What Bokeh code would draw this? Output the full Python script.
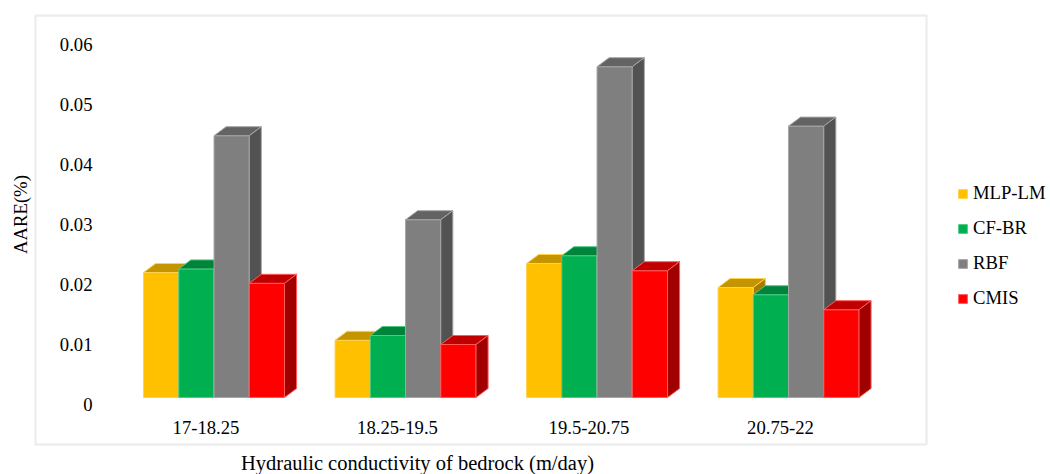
import math

from bokeh.plotting import figure
from bokeh.models import (Range1d, FixedTicker, BoxAnnotation, Legend,
                          LegendItem, Label)
from bokeh.embed import file_html
from bokeh.resources import INLINE

# ---- data -------------------------------------------------------------
categories = ["17-18.25", "18.25-19.5", "19.5-20.75", "20.75-22"]
series_names = ["MLP-LM", "CF-BR", "RBF", "CMIS"]
mlp_lm = [0.0220, 0.0107, 0.0235, 0.0195]
cf_br = [0.0226, 0.0115, 0.0248, 0.0183]
rbf = [0.0448, 0.0308, 0.0563, 0.0464]
cmis = [0.0202, 0.0100, 0.0223, 0.0158]
y_ticks = [0, 0.01, 0.02, 0.03, 0.04, 0.05, 0.06]

series_values = [mlp_lm, cf_br, rbf, cmis]

# face colours per series: front, top, side, edge
palette = [
    ("#FFC000", "#C49500", "#A67C00", "#FFD24D"),
    ("#00B050", "#00843C", "#006B30", "#4DCB85"),
    ("#7F7F7F", "#636363", "#525252", "#A6A6A6"),
    ("#FF0000", "#C00000", "#A00000", "#FF5A5A"),
]

FONT = "Liberation Serif"
FONT_SIZE = "14pt"
W, H = 1050, 474

# ---- pseudo-3D column geometry (category / value units) ----------------
BAR_W = 0.184        # width of one column's front face
GROUP_SHIFT = 0.042  # front faces sit slightly right of the category centre
DEPTH_X = 0.063      # horizontal depth offset
DEPTH_Y = 0.0015     # vertical depth offset
FLOOR = 0.00117      # top of the chart floor

# the plotting frame fills the whole canvas; axes are pinned inside it
p = figure(width=W, height=H, output_backend="svg", toolbar_location=None,
           x_range=Range1d(-1.0731, 4.4099), y_range=Range1d(-0.011667, 0.067333),
           min_border_left=0, min_border_right=0,
           min_border_top=0, min_border_bottom=0)
p.background_fill_color = "white"
p.border_fill_color = "white"
p.outline_line_color = None
p.grid.visible = False

legend_items = []
n = len(series_values)
for j, (name, vals, cols) in enumerate(zip(series_names, series_values, palette)):
    front_c, top_c, side_c, edge_c = cols
    fx, fy, tx, ty, sx, sy = [], [], [], [], [], []
    for i, v in enumerate(vals):
        x0 = i + GROUP_SHIFT - (n / 2) * BAR_W + j * BAR_W
        x1 = x0 + BAR_W
        fx.append([x0, x1, x1, x0])
        fy.append([FLOOR, FLOOR, v, v])
        tx.append([x0, x1, x1 + DEPTH_X, x0 + DEPTH_X])
        ty.append([v, v, v + DEPTH_Y, v + DEPTH_Y])
        sx.append([x1, x1 + DEPTH_X, x1 + DEPTH_X, x1])
        sy.append([FLOOR, FLOOR + DEPTH_Y, v + DEPTH_Y, v])
    front = p.patches(xs=fx, ys=fy, fill_color=front_c, line_color=edge_c,
                      line_width=1)
    p.patches(xs=tx, ys=ty, fill_color=top_c, line_color=edge_c, line_width=1)
    p.patches(xs=sx, ys=sy, fill_color=side_c, line_color=edge_c, line_width=1)
    legend_items.append(LegendItem(label=name, renderers=[front]))

# ---- axes (pinned inside the chart area) --------------------------------
xa = p.xaxis[0]
xa.fixed_location = -0.001
xa.ticker = FixedTicker(ticks=list(range(len(categories))))
xa.major_label_overrides = {i: c for i, c in enumerate(categories)}
ya = p.yaxis[0]
ya.fixed_location = -0.5509
ya.ticker = FixedTicker(ticks=y_ticks)
ya.major_label_overrides = {t: f"{t:g}" for t in y_ticks}

for ax in (xa, ya):
    ax.axis_line_color = None
    ax.major_tick_line_color = None
    ax.minor_tick_line_color = None
    ax.major_tick_out = 0
    ax.major_tick_in = 0
    ax.minor_tick_out = 0
    ax.major_label_text_font = FONT
    ax.major_label_text_font_size = FONT_SIZE
    ax.major_label_text_color = "black"
xa.major_label_standoff = 11
ya.major_label_standoff = 8

# axis titles
p.add_layout(Label(x=20, y=H - 214, x_units="screen", y_units="screen",
                   text="AARE(%)", angle=math.pi / 2,
                   text_align="center", text_baseline="middle",
                   text_font=FONT, text_font_size=FONT_SIZE,
                   text_color="black"))
p.add_layout(Label(x=417, y=H - 462, x_units="screen", y_units="screen",
                   text="Hydraulic conductivity of bedrock (m/day)",
                   text_align="center", text_baseline="middle",
                   text_font=FONT, text_font_size="20.5px",
                   text_color="black"))

# ---- chart border -------------------------------------------------------
p.add_layout(BoxAnnotation(left=35, right=926, top=15, bottom=444,
                           left_units="canvas", right_units="canvas",
                           top_units="canvas", bottom_units="canvas",
                           fill_color=None, fill_alpha=0,
                           line_color="#C8C8C8", line_width=2.5))

# ---- legend -------------------------------------------------------------
legend = Legend(items=legend_items, location=(957, 165), orientation="vertical",
                glyph_width=11, glyph_height=11, label_standoff=5,
                label_height=22, spacing=13, padding=10, margin=0,
                border_line_color=None, background_fill_alpha=0,
                label_text_font=FONT, label_text_font_size="14pt",
                label_text_color="black")
p.add_layout(legend)

open("out.html", "w").write(file_html(p, INLINE))
